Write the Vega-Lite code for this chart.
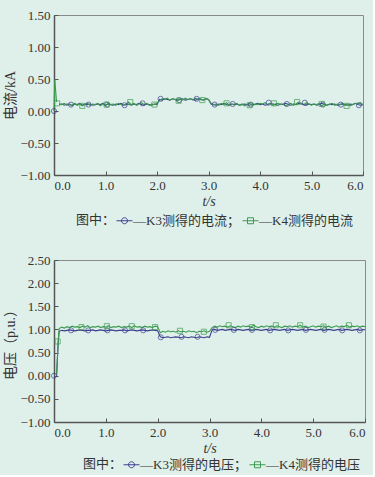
{
  "$schema": "https://vega.github.io/schema/vega-lite/v6.json",
  "background": "#dff0eb",
  "padding": {"left": 3, "top": 8, "right": 5, "bottom": 2},
  "spacing": 24,
  "resolve": {"scale": {"color": "independent", "x": "independent", "y": "independent"}, "legend": {"color": "independent"}},
  "config": {
    "view": {"stroke": "#8a8a8a", "strokeWidth": 1},
    "axis": {
      "grid": false,
      "labelFont": "Liberation Serif",
      "labelFontSize": 13,
      "labelColor": "#333333",
      "titleFont": "Liberation Serif, Noto Sans CJK SC",
      "titleFontSize": 14,
      "titleFontWeight": "normal",
      "titleColor": "#333333",
      "domainColor": "#555555",
      "domainWidth": 1.5,
      "tickColor": "#555555",
      "tickSize": -4,
      "labelPadding": 8
    }
  },
  "datasets": {
    "d": [
      {"t":0,"i3":0,"i4":0,"u3":0,"u4":0},
      {"t":0.015,"i4":0.49},
      {"t":0.05,"i3":0.12,"i4":0.14,"u3":0,"u4":0.02},
      {"t":0.08,"u3":0.70,"u4":0.74},
      {"t":0.1,"i3":0.10,"i4":0.11,"u3":0.96,"u4":1.02},
      {"t":0.15,"i3":0.11,"i4":0.10,"u3":0.98,"u4":1.05},
      {"t":0.2,"i3":0.09,"i4":0.12,"u3":0.97,"u4":1.03},
      {"t":0.25,"i3":0.11,"i4":0.09,"u3":0.98,"u4":1.06},
      {"t":0.3,"i3":0.10,"i4":0.11,"u3":0.99,"u4":1.04},
      {"t":0.35,"i3":0.09,"i4":0.08,"u3":0.98,"u4":1.07},
      {"t":0.4,"i3":0.11,"i4":0.12,"u3":0.97,"u4":1.05},
      {"t":0.45,"i3":0.10,"i4":0.09,"u3":0.98,"u4":1.06},
      {"t":0.5,"i3":0.12,"i4":0.11,"u3":0.99,"u4":1.04},
      {"t":0.55,"i3":0.09,"i4":0.08,"u3":0.98,"u4":1.07},
      {"t":0.6,"i3":0.11,"i4":0.10,"u3":0.97,"u4":1.05},
      {"t":0.65,"i3":0.10,"i4":0.12,"u3":0.98,"u4":1.08},
      {"t":0.7,"i3":0.11,"i4":0.09,"u3":0.98,"u4":1.04},
      {"t":0.75,"i3":0.09,"i4":0.11,"u3":0.99,"u4":1.06},
      {"t":0.8,"i3":0.10,"i4":0.10,"u3":0.97,"u4":1.05},
      {"t":0.85,"i3":0.11,"i4":0.12,"u3":0.98,"u4":1.07},
      {"t":0.9,"i3":0.10,"i4":0.08,"u3":0.99,"u4":1.04},
      {"t":0.95,"i3":0.12,"i4":0.11,"u3":0.98,"u4":1.06},
      {"t":1.0,"i3":0.09,"i4":0.09,"u3":0.97,"u4":1.05},
      {"t":1.05,"i3":0.11,"i4":0.12,"u3":0.98,"u4":1.08},
      {"t":1.1,"i3":0.10,"i4":0.10,"u3":0.99,"u4":1.04},
      {"t":1.15,"i3":0.09,"i4":0.11,"u3":0.98,"u4":1.06},
      {"t":1.2,"i3":0.11,"i4":0.09,"u3":0.97,"u4":1.05},
      {"t":1.25,"i3":0.10,"i4":0.12,"u3":0.98,"u4":1.07},
      {"t":1.3,"i3":0.12,"i4":0.10,"u3":0.98,"u4":1.04},
      {"t":1.35,"i3":0.09,"i4":0.09,"u3":0.99,"u4":1.06},
      {"t":1.4,"i3":0.10,"i4":0.11,"u3":0.97,"u4":1.05},
      {"t":1.45,"i3":0.11,"i4":0.14,"u3":0.98,"u4":1.07},
      {"t":1.5,"i3":0.09,"i4":0.10,"u3":0.99,"u4":1.04},
      {"t":1.55,"i3":0.11,"i4":0.12,"u3":0.98,"u4":1.08},
      {"t":1.6,"i3":0.10,"i4":0.09,"u3":0.97,"u4":1.05},
      {"t":1.65,"i3":0.12,"i4":0.11,"u3":0.98,"u4":1.06},
      {"t":1.7,"i3":0.10,"i4":0.13,"u3":0.99,"u4":1.04},
      {"t":1.75,"i3":0.09,"i4":0.10,"u3":0.98,"u4":1.07},
      {"t":1.8,"i3":0.11,"i4":0.12,"u3":0.97,"u4":1.05},
      {"t":1.85,"i3":0.10,"i4":0.09,"u3":0.98,"u4":1.06},
      {"t":1.9,"i3":0.09,"i4":0.11,"u3":0.99,"u4":1.04},
      {"t":1.95,"i3":0.11,"i4":0.10,"u3":0.98,"u4":1.07},
      {"t":2.0,"i3":0.10,"i4":0.12,"u3":0.97,"u4":1.06},
      {"t":2.05,"i3":0.18,"i4":0.17,"u3":0.84,"u4":0.93},
      {"t":2.1,"i3":0.17,"i4":0.19,"u3":0.82,"u4":0.96},
      {"t":2.15,"i3":0.19,"i4":0.18,"u3":0.83,"u4":0.94},
      {"t":2.2,"i3":0.18,"i4":0.20,"u3":0.84,"u4":0.97},
      {"t":2.25,"i3":0.17,"i4":0.17,"u3":0.82,"u4":0.95},
      {"t":2.3,"i3":0.19,"i4":0.19,"u3":0.83,"u4":0.96},
      {"t":2.35,"i3":0.18,"i4":0.18,"u3":0.84,"u4":0.94},
      {"t":2.4,"i3":0.17,"i4":0.16,"u3":0.83,"u4":0.97},
      {"t":2.45,"i3":0.18,"i4":0.19,"u3":0.82,"u4":0.95},
      {"t":2.5,"i3":0.19,"i4":0.17,"u3":0.84,"u4":0.96},
      {"t":2.55,"i3":0.17,"i4":0.20,"u3":0.83,"u4":0.94},
      {"t":2.6,"i3":0.18,"i4":0.18,"u3":0.82,"u4":0.97},
      {"t":2.65,"i3":0.19,"i4":0.19,"u3":0.84,"u4":0.95},
      {"t":2.7,"i3":0.18,"i4":0.17,"u3":0.83,"u4":0.96},
      {"t":2.75,"i3":0.17,"i4":0.20,"u3":0.82,"u4":0.93},
      {"t":2.8,"i3":0.19,"i4":0.18,"u3":0.84,"u4":0.96},
      {"t":2.85,"i3":0.18,"i4":0.19,"u3":0.83,"u4":0.95},
      {"t":2.9,"i3":0.17,"i4":0.17,"u3":0.82,"u4":0.97},
      {"t":2.95,"i3":0.19,"i4":0.20,"u3":0.84,"u4":0.94},
      {"t":3.0,"i3":0.18,"i4":0.18,"u3":0.83,"u4":0.96},
      {"t":3.05,"i3":0.11,"i4":0.12,"u3":0.99,"u4":1.04},
      {"t":3.1,"i3":0.10,"i4":0.10,"u3":1.0,"u4":1.07},
      {"t":3.15,"i3":0.09,"i4":0.11,"u3":0.98,"u4":1.05},
      {"t":3.2,"i3":0.11,"i4":0.09,"u3":0.99,"u4":1.08},
      {"t":3.25,"i3":0.10,"i4":0.12,"u3":1.0,"u4":1.06},
      {"t":3.3,"i3":0.12,"i4":0.10,"u3":0.98,"u4":1.07},
      {"t":3.35,"i3":0.10,"i4":0.13,"u3":0.99,"u4":1.05},
      {"t":3.4,"i3":0.09,"i4":0.09,"u3":1.0,"u4":1.08},
      {"t":3.45,"i3":0.11,"i4":0.11,"u3":0.99,"u4":1.06},
      {"t":3.5,"i3":0.10,"i4":0.10,"u3":0.98,"u4":1.04},
      {"t":3.55,"i3":0.11,"i4":0.12,"u3":1.0,"u4":1.07},
      {"t":3.6,"i3":0.09,"i4":0.09,"u3":0.99,"u4":1.05},
      {"t":3.65,"i3":0.10,"i4":0.11,"u3":0.98,"u4":1.08},
      {"t":3.7,"i3":0.11,"i4":0.08,"u3":0.99,"u4":1.06},
      {"t":3.75,"i3":0.10,"i4":0.10,"u3":1.0,"u4":1.07},
      {"t":3.8,"i3":0.09,"i4":0.12,"u3":0.98,"u4":1.05},
      {"t":3.85,"i3":0.11,"i4":0.09,"u3":0.99,"u4":1.09},
      {"t":3.9,"i3":0.10,"i4":0.11,"u3":1.0,"u4":1.06},
      {"t":3.95,"i3":0.12,"i4":0.10,"u3":0.99,"u4":1.04},
      {"t":4.0,"i3":0.10,"i4":0.12,"u3":0.98,"u4":1.07},
      {"t":4.05,"i3":0.11,"i4":0.11,"u3":0.99,"u4":1.05},
      {"t":4.1,"i3":0.09,"i4":0.13,"u3":1.0,"u4":1.08},
      {"t":4.15,"i3":0.10,"i4":0.10,"u3":0.98,"u4":1.06},
      {"t":4.2,"i3":0.12,"i4":0.12,"u3":0.99,"u4":1.07},
      {"t":4.25,"i3":0.11,"i4":0.09,"u3":1.0,"u4":1.05},
      {"t":4.3,"i3":0.10,"i4":0.11,"u3":0.99,"u4":1.08},
      {"t":4.35,"i3":0.09,"i4":0.12,"u3":0.98,"u4":1.06},
      {"t":4.4,"i3":0.11,"i4":0.10,"u3":0.99,"u4":1.04},
      {"t":4.45,"i3":0.10,"i4":0.11,"u3":1.0,"u4":1.07},
      {"t":4.5,"i3":0.12,"i4":0.08,"u3":0.98,"u4":1.06},
      {"t":4.55,"i3":0.10,"i4":0.10,"u3":0.99,"u4":1.08},
      {"t":4.6,"i3":0.09,"i4":0.12,"u3":1.0,"u4":1.05},
      {"t":4.65,"i3":0.11,"i4":0.09,"u3":0.99,"u4":1.07},
      {"t":4.7,"i3":0.10,"i4":0.11,"u3":0.98,"u4":1.06},
      {"t":4.75,"i3":0.12,"i4":0.14,"u3":0.99,"u4":1.09},
      {"t":4.8,"i3":0.11,"i4":0.12,"u3":1.0,"u4":1.05},
      {"t":4.85,"i3":0.10,"i4":0.10,"u3":0.98,"u4":1.07},
      {"t":4.9,"i3":0.09,"i4":0.13,"u3":0.99,"u4":1.04},
      {"t":4.95,"i3":0.11,"i4":0.11,"u3":1.0,"u4":1.06},
      {"t":5.0,"i3":0.10,"i4":0.09,"u3":0.99,"u4":1.08},
      {"t":5.05,"i3":0.11,"i4":0.11,"u3":0.98,"u4":1.05},
      {"t":5.1,"i3":0.09,"i4":0.10,"u3":0.99,"u4":1.07},
      {"t":5.15,"i3":0.10,"i4":0.12,"u3":1.0,"u4":1.06},
      {"t":5.2,"i3":0.12,"i4":0.08,"u3":0.98,"u4":1.08},
      {"t":5.25,"i3":0.10,"i4":0.11,"u3":0.99,"u4":1.05},
      {"t":5.3,"i3":0.09,"i4":0.09,"u3":1.0,"u4":1.07},
      {"t":5.35,"i3":0.11,"i4":0.10,"u3":0.99,"u4":1.04},
      {"t":5.4,"i3":0.10,"i4":0.12,"u3":0.98,"u4":1.06},
      {"t":5.45,"i3":0.11,"i4":0.09,"u3":0.99,"u4":1.08},
      {"t":5.5,"i3":0.09,"i4":0.11,"u3":1.0,"u4":1.05},
      {"t":5.55,"i3":0.10,"i4":0.10,"u3":0.98,"u4":1.07},
      {"t":5.6,"i3":0.11,"i4":0.12,"u3":0.99,"u4":1.06},
      {"t":5.65,"i3":0.10,"i4":0.09,"u3":1.0,"u4":1.09},
      {"t":5.7,"i3":0.09,"i4":0.11,"u3":0.99,"u4":1.05},
      {"t":5.75,"i3":0.11,"i4":0.08,"u3":0.98,"u4":1.07},
      {"t":5.8,"i3":0.10,"i4":0.10,"u3":0.99,"u4":1.06},
      {"t":5.85,"i3":0.12,"i4":0.12,"u3":1.0,"u4":1.08},
      {"t":5.9,"i3":0.10,"i4":0.11,"u3":0.98,"u4":1.05},
      {"t":5.95,"i3":0.09,"i4":0.13,"u3":0.99,"u4":1.07},
      {"t":6.0,"i3":0.10,"i4":0.10,"u3":1.0,"u4":1.06}
    ],
    "mi": [
      {"t":0,"s":"i3","v":0},
      {"t":0.33,"s":"i3","v":0.10},
      {"t":0.67,"s":"i3","v":0.10},
      {"t":1.03,"s":"i3","v":0.10},
      {"t":1.37,"s":"i3","v":0.09},
      {"t":1.72,"s":"i3","v":0.12},
      {"t":2.07,"s":"i3","v":0.19},
      {"t":2.43,"s":"i3","v":0.17},
      {"t":2.77,"s":"i3","v":0.19},
      {"t":3.12,"s":"i3","v":0.10},
      {"t":3.47,"s":"i3","v":0.11},
      {"t":3.82,"s":"i3","v":0.10},
      {"t":4.17,"s":"i3","v":0.13},
      {"t":4.52,"s":"i3","v":0.11},
      {"t":4.87,"s":"i3","v":0.13},
      {"t":5.22,"s":"i3","v":0.10},
      {"t":5.57,"s":"i3","v":0.10},
      {"t":5.92,"s":"i3","v":0.09},
      {"t":0.06,"s":"i4","v":0.12},
      {"t":0.55,"s":"i4","v":0.08},
      {"t":1.02,"s":"i4","v":0.10},
      {"t":1.48,"s":"i4","v":0.14},
      {"t":1.95,"s":"i4","v":0.10},
      {"t":2.42,"s":"i4","v":0.16},
      {"t":2.88,"s":"i4","v":0.17},
      {"t":3.35,"s":"i4","v":0.12},
      {"t":3.8,"s":"i4","v":0.09},
      {"t":4.27,"s":"i4","v":0.12},
      {"t":4.72,"s":"i4","v":0.14},
      {"t":5.2,"s":"i4","v":0.11},
      {"t":5.68,"s":"i4","v":0.08}
    ],
    "mu": [
      {"t":0,"s":"u3","v":0},
      {"t":0.33,"s":"u3","v":0.98},
      {"t":0.66,"s":"u3","v":0.98},
      {"t":1.03,"s":"u3","v":0.98},
      {"t":1.37,"s":"u3","v":0.98},
      {"t":1.72,"s":"u3","v":0.98},
      {"t":2.06,"s":"u3","v":0.83},
      {"t":2.46,"s":"u3","v":0.84},
      {"t":2.77,"s":"u3","v":0.84},
      {"t":3.11,"s":"u3","v":0.99},
      {"t":3.47,"s":"u3","v":0.99},
      {"t":3.82,"s":"u3","v":0.99},
      {"t":4.17,"s":"u3","v":0.98},
      {"t":4.52,"s":"u3","v":0.98},
      {"t":4.86,"s":"u3","v":0.99},
      {"t":5.22,"s":"u3","v":0.99},
      {"t":5.56,"s":"u3","v":0.98},
      {"t":5.9,"s":"u3","v":0.98},
      {"t":0.07,"s":"u4","v":0.74},
      {"t":0.53,"s":"u4","v":1.05},
      {"t":1.02,"s":"u4","v":1.07},
      {"t":1.5,"s":"u4","v":1.07},
      {"t":1.95,"s":"u4","v":1.05},
      {"t":2.43,"s":"u4","v":0.97},
      {"t":2.89,"s":"u4","v":0.95},
      {"t":3.37,"s":"u4","v":1.09},
      {"t":3.82,"s":"u4","v":1.05},
      {"t":4.28,"s":"u4","v":1.09},
      {"t":4.75,"s":"u4","v":1.09},
      {"t":5.2,"s":"u4","v":1.06},
      {"t":5.69,"s":"u4","v":1.09}
    ]
  },
  "vconcat": [
    {
      "width": 309,
      "height": 160,
      "encoding": {
        "x": {"field": "t", "type": "quantitative", "scale": {"domain": [0, 6], "nice": false},
              "axis": {"title": "t/s", "titleFontStyle": "italic", "values": [0,1,2,3,4,5,6], "format": ".1f", "titlePadding": 2}},
        "y": {"field": "v", "type": "quantitative", "scale": {"domain": [-1, 1.5], "nice": false},
              "axis": {"title": "电流/kA", "values": [-1,-0.5,0,0.5,1,1.5], "format": ".2f", "titlePadding": 2}},
        "color": {"field": "s", "type": "nominal", "scale": {"domain": ["i3","i4"], "range": ["#3c3f8c","#3d9b4f"]},
          "legend": {
            "title": "图中：", "orient": "none", "legendX": 22, "legendY": 197, "direction": "horizontal",
            "titleOrient": "left", "titleFont": "Liberation Serif, Noto Sans CJK SC", "titleFontSize": 13, "titleFontWeight": "normal", "titleColor": "#333333", "titlePadding": 0,
            "labelFont": "Liberation Serif, Noto Sans CJK SC", "labelFontSize": 13, "labelColor": "#333333",
            "labelExpr": "datum.value == 'i3' ? '—K3测得的电流；' : '—K4测得的电流'",
            "symbolSize": 256, "symbolStrokeWidth": 1, "columnPadding": 0, "labelOffset": 0,
            "encode": {"symbols": {"update": {
              "shape": {"signal": "datum.value == 'i3' ? 'M-1,0L1,0M0.375,0A0.375,0.375 0 1 1 -0.375,0A0.375,0.375 0 1 1 0.375,0' : 'M-1,0L1,0M-0.375,-0.375H0.375V0.375H-0.375Z'"},
              "fill": {"value": "transparent"}}}}
          }}
      },
      "layer": [
        {"data": {"name": "d"}, "transform": [{"fold": ["i3","i4"], "as": ["s","v"]}],
         "mark": {"type": "line", "strokeWidth": 1.1}},
        {"data": {"name": "mi"}, "transform": [{"filter": "datum.s == 'i3'"}],
         "mark": {"type": "point", "shape": "circle", "filled": false, "strokeWidth": 1, "size": 26}},
        {"data": {"name": "mi"}, "transform": [{"filter": "datum.s == 'i4'"}],
         "mark": {"type": "point", "shape": "square", "filled": false, "strokeWidth": 1, "size": 26}}
      ]
    },
    {
      "width": 311,
      "height": 162,
      "encoding": {
        "x": {"field": "t", "type": "quantitative", "scale": {"domain": [0, 6], "nice": false},
              "axis": {"title": "t/s", "titleFontStyle": "italic", "values": [0,1,2,3,4,5,6], "format": ".1f", "titlePadding": 2}},
        "y": {"field": "v", "type": "quantitative", "scale": {"domain": [-1, 2.5], "nice": false},
              "axis": {"title": "电压（p.u.）", "values": [-1,-0.5,0,0.5,1,1.5,2,2.5], "format": ".2f", "titlePadding": 2}},
        "color": {"field": "s", "type": "nominal", "scale": {"domain": ["u3","u4"], "range": ["#3c3f8c","#3d9b4f"]},
          "legend": {
            "title": "图中：", "orient": "none", "legendX": 29, "legendY": 196, "direction": "horizontal",
            "titleOrient": "left", "titleFont": "Liberation Serif, Noto Sans CJK SC", "titleFontSize": 13, "titleFontWeight": "normal", "titleColor": "#333333", "titlePadding": 0,
            "labelFont": "Liberation Serif, Noto Sans CJK SC", "labelFontSize": 13, "labelColor": "#333333",
            "labelExpr": "datum.value == 'u3' ? '—K3测得的电压；' : '—K4测得的电压'",
            "symbolSize": 256, "symbolStrokeWidth": 1, "columnPadding": 0, "labelOffset": 0,
            "encode": {"symbols": {"update": {
              "shape": {"signal": "datum.value == 'u3' ? 'M-1,0L1,0M0.375,0A0.375,0.375 0 1 1 -0.375,0A0.375,0.375 0 1 1 0.375,0' : 'M-1,0L1,0M-0.375,-0.375H0.375V0.375H-0.375Z'"},
              "fill": {"value": "transparent"}}}}
          }}
      },
      "layer": [
        {"data": {"name": "d"}, "transform": [{"fold": ["u3","u4"], "as": ["s","v"]}],
         "mark": {"type": "line", "strokeWidth": 1.1}},
        {"data": {"name": "mu"}, "transform": [{"filter": "datum.s == 'u3'"}],
         "mark": {"type": "point", "shape": "circle", "filled": false, "strokeWidth": 1, "size": 26}},
        {"data": {"name": "mu"}, "transform": [{"filter": "datum.s == 'u4'"}],
         "mark": {"type": "point", "shape": "square", "filled": false, "strokeWidth": 1, "size": 26}}
      ]
    }
  ]
}
